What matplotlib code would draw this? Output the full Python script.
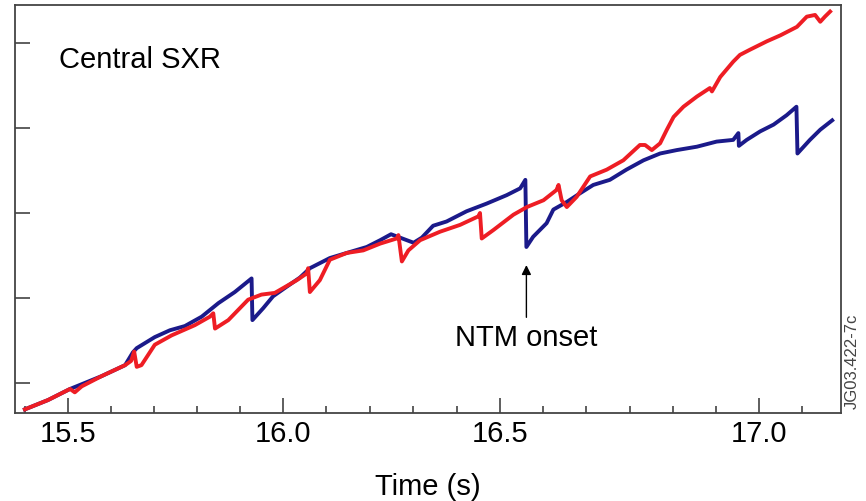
import numpy as np
import matplotlib.pyplot as plt
from matplotlib.ticker import FixedLocator, NullFormatter

plt.rcParams['font.family'] = ['Liberation Sans', 'DejaVu Sans']

# Central SXR (a.u.) vs time (s), red trace
red_t = [15.400, 15.454, 15.505, 15.516, 15.532, 15.578, 15.633, 15.647, 15.654, 15.660,
         15.671, 15.702, 15.741, 15.795, 15.830, 15.838, 15.842, 15.873, 15.919, 15.950,
         15.981, 16.005, 16.032, 16.055, 16.058, 16.062, 16.085, 16.108, 16.147, 16.185,
         16.224, 16.262, 16.266, 16.274, 16.289, 16.316, 16.362, 16.408, 16.450, 16.454,
         16.458, 16.485, 16.526, 16.552, 16.584, 16.609, 16.613, 16.619, 16.629, 16.648,
         16.674, 16.706, 16.738, 16.770, 16.780, 16.793, 16.809, 16.822, 16.835, 16.854,
         16.880, 16.905, 16.909, 16.925, 16.950, 16.963, 16.982, 17.015, 17.041, 17.073,
         17.092, 17.108, 17.118, 17.127, 17.137]
red_y = [-0.31, -0.20, -0.07, -0.11, -0.04, 0.08, 0.21, 0.26, 0.37, 0.19,
         0.21, 0.45, 0.56, 0.68, 0.78, 0.82, 0.64, 0.74, 0.98, 1.04,
         1.06, 1.13, 1.21, 1.29, 1.35, 1.07, 1.21, 1.45, 1.53, 1.56,
         1.64, 1.70, 1.74, 1.43, 1.56, 1.68, 1.78, 1.86, 1.96, 2.00,
         1.70, 1.80, 1.98, 2.07, 2.15, 2.27, 2.33, 2.15, 2.07, 2.19,
         2.43, 2.51, 2.62, 2.80, 2.80, 2.74, 2.82, 2.98, 3.13, 3.25,
         3.37, 3.47, 3.43, 3.60, 3.78, 3.86, 3.92, 4.02, 4.09, 4.19,
         4.31, 4.33, 4.25, 4.31, 4.37]

# blue trace
blue_t = [15.400, 15.454, 15.505, 15.578, 15.633, 15.651, 15.660, 15.702, 15.737, 15.772,
          15.811, 15.850, 15.888, 15.927, 15.929, 15.954, 15.977, 16.005, 16.039, 16.062,
          16.108, 16.147, 16.193, 16.224, 16.249, 16.301, 16.320, 16.346, 16.377, 16.423,
          16.469, 16.513, 16.539, 16.549, 16.551, 16.564, 16.590, 16.603, 16.629, 16.654,
          16.680, 16.712, 16.744, 16.777, 16.809, 16.841, 16.880, 16.918, 16.950, 16.960,
          16.961, 16.976, 17.002, 17.028, 17.053, 17.072, 17.074, 17.098, 17.118, 17.141]
blue_y = [-0.31, -0.20, -0.07, 0.08, 0.21, 0.36, 0.41, 0.54, 0.62, 0.67,
          0.78, 0.94, 1.07, 1.23, 0.74, 0.88, 1.02, 1.12, 1.24, 1.35,
          1.47, 1.53, 1.60, 1.68, 1.75, 1.65, 1.71, 1.85, 1.90, 2.02,
          2.11, 2.21, 2.29, 2.39, 1.60, 1.72, 1.88, 2.04, 2.13, 2.23,
          2.33, 2.39, 2.51, 2.62, 2.70, 2.74, 2.78, 2.84, 2.86, 2.94,
          2.79, 2.86, 2.96, 3.04, 3.15, 3.25, 2.70, 2.86, 2.98, 3.09]

major_ticks = [15.5, 16.0, 16.5, 17.0]
major_labels = ['15.5', '16.0', '16.5', '17.0']
minor_ticks = [15.4, 15.6, 15.7, 15.8, 15.9, 16.1, 16.2, 16.3, 16.4,
               16.5 + 1/12, 16.5 + 2/12, 16.75, 16.5 + 4/12, 16.5 + 5/12, 17.0 + 1/12]
ntm_time = 16.551

# the original time axis is not evenly spaced after 16.5 s
scale_t = [15.0, 15.5, 16.0, 16.5, 17.0, 17.5]
scale_u = [-1.0, 0.0, 1.0, 2.009, 3.214, 4.419]

def fwd(t):
    return np.interp(t, scale_t, scale_u)

def inv(u):
    return np.interp(u, scale_u, scale_t)

fig = plt.figure(figsize=(8.66, 5.01), dpi=100)
ax = fig.add_axes([15/866, 88/501, 826/866, 408/501])
ax.set_xscale('function', functions=(fwd, inv))

ax.plot(blue_t, blue_y, color='#1b1a8a', lw=2.8, solid_joinstyle='round')
ax.plot(red_t, red_y, color='#ee1d24', lw=2.8, solid_joinstyle='round')

ax.set_xlim(15.377, 17.158)
ax.set_ylim(-0.353, 4.447)

ax.xaxis.set_major_locator(FixedLocator(major_ticks))
ax.set_xticklabels(major_labels)
ax.xaxis.set_minor_locator(FixedLocator(minor_ticks))
ax.xaxis.set_minor_formatter(NullFormatter())
ax.set_yticks([0, 1, 2, 3, 4])
ax.set_yticklabels([])

ax.tick_params(axis='both', which='major', direction='in', length=11, width=1.1,
               color='#333333', labelsize=21, pad=5)
ax.tick_params(axis='both', which='minor', direction='in', length=5, width=1.1,
               color='#333333')
for s in ax.spines.values():
    s.set_color('#444444')
    s.set_linewidth(1.3)

ax.set_xlabel('Time (s)', fontsize=21, labelpad=18)

ax.text(0.053, 0.846, 'Central SXR', transform=ax.transAxes, fontsize=21,
        va='baseline', ha='left')

ax.annotate('', xy=(ntm_time, 1.42), xytext=(ntm_time, 0.74),
            arrowprops=dict(arrowstyle='-|>', lw=1.0, color='k', mutation_scale=14))
ax.text(ntm_time, 0.53, 'NTM onset', fontsize=21, ha='center', va='center')

fig.text(852/866, 1 - 361/501, 'JG03.422-7c', rotation=90, fontsize=12,
         color='#444444', ha='center', va='center')

fig.savefig('out.png', dpi=100)
